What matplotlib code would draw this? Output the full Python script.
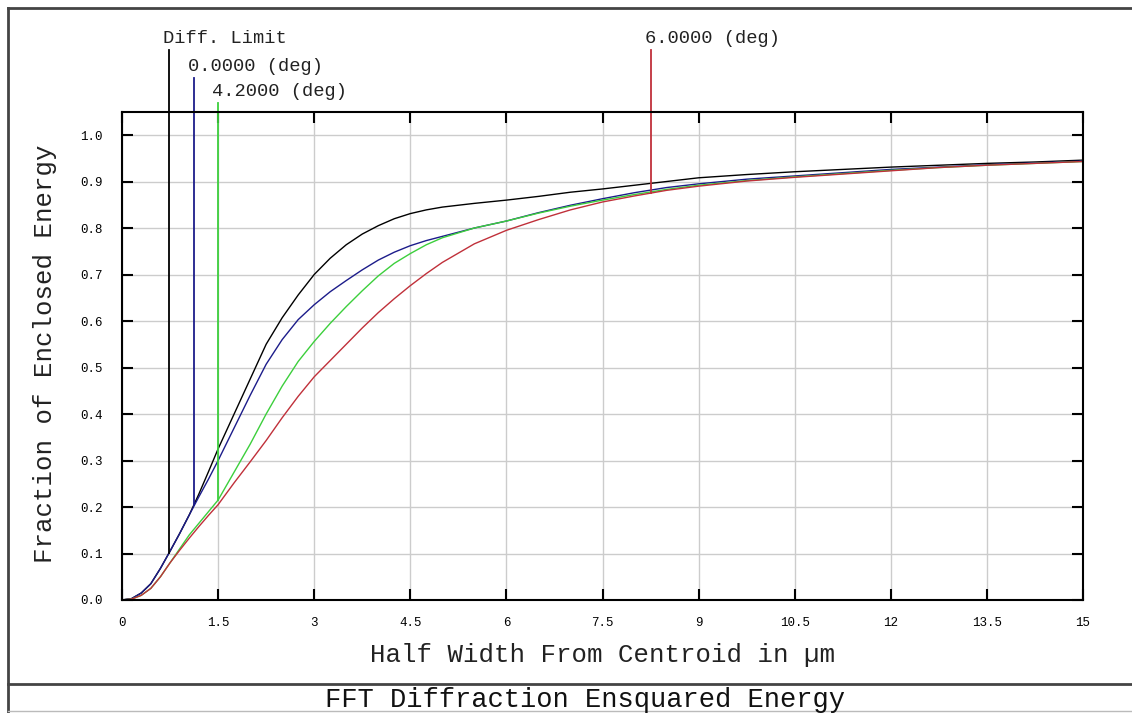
import matplotlib
matplotlib.use("Agg")
import matplotlib.pyplot as plt
import numpy as np
from matplotlib.lines import Line2D

plt.rcParams['font.family'] = ['Liberation Mono', 'DejaVu Sans Mono']

# half width from centroid (um)
half_width = [0, 0.15, 0.3, 0.45, 0.6, 0.75, 0.9, 1.05, 1.2, 1.35, 1.5, 1.75, 2.0, 2.25,
              2.5, 2.75, 3.0, 3.25, 3.5, 3.75, 4.0, 4.25, 4.5, 4.75, 5.0, 5.5, 6.0, 6.5,
              7.0, 7.5, 8.0, 8.5, 9.0, 9.75, 10.5, 11.25, 12.0, 12.75, 13.5, 14.25, 15.0]

# fraction of enclosed energy per field
diff_limit = [0, 0.003, 0.015, 0.035, 0.068, 0.105, 0.143, 0.183, 0.228, 0.276, 0.325,
              0.40, 0.475, 0.55, 0.607, 0.656, 0.70, 0.735, 0.764, 0.787, 0.805, 0.82,
              0.831, 0.839, 0.845, 0.853, 0.86, 0.868, 0.877, 0.884, 0.892, 0.90, 0.908,
              0.915, 0.921, 0.926, 0.931, 0.935, 0.939, 0.942, 0.946]
field_0 = [0, 0.003, 0.015, 0.035, 0.068, 0.105, 0.143, 0.183, 0.222, 0.26, 0.30, 0.37,
           0.44, 0.507, 0.56, 0.603, 0.635, 0.663, 0.687, 0.71, 0.731, 0.748, 0.762,
           0.773, 0.782, 0.80, 0.815, 0.833, 0.849, 0.863, 0.876, 0.887, 0.895, 0.905,
           0.912, 0.919, 0.926, 0.931, 0.936, 0.94, 0.944]
field_42 = [0, 0.002, 0.01, 0.025, 0.05, 0.08, 0.11, 0.14, 0.165, 0.19, 0.215, 0.275,
            0.335, 0.40, 0.46, 0.513, 0.556, 0.595, 0.631, 0.665, 0.697, 0.724, 0.745,
            0.764, 0.779, 0.80, 0.815, 0.832, 0.847, 0.86, 0.872, 0.883, 0.892, 0.902,
            0.91, 0.917, 0.924, 0.93, 0.935, 0.939, 0.943]
field_6 = [0, 0.002, 0.01, 0.025, 0.05, 0.08, 0.107, 0.133, 0.158, 0.182, 0.205, 0.252,
           0.297, 0.343, 0.392, 0.438, 0.48, 0.515, 0.55, 0.585, 0.618, 0.648, 0.676,
           0.702, 0.726, 0.766, 0.795, 0.818, 0.839, 0.856, 0.869, 0.881, 0.89, 0.901,
           0.909, 0.916, 0.923, 0.93, 0.935, 0.939, 0.943]

labels = ['Diff. Limit', '0.0000 (deg)', '4.2000 (deg)', '6.0000 (deg)']
marker_x = [0.73, 1.13, 1.50, 8.25]
colors = ['#000000', '#1c1c8a', '#3ccf3c', '#c0303a']
label_top = [1.183, 1.123, 1.069, 1.183]

x_ticks = [0, 1.5, 3, 4.5, 6, 7.5, 9, 10.5, 12, 13.5, 15]
x_tick_labels = ['0', '1.5', '3', '4.5', '6', '7.5', '9', '10.5', '12', '13.5', '15']
y_ticks = [0.0, 0.1, 0.2, 0.3, 0.4, 0.5, 0.6, 0.7, 0.8, 0.9, 1.0]

fig = plt.figure(figsize=(11.32, 7.13), dpi=100)
ax = fig.add_axes([122 / 1132, 113 / 713, (1083 - 122) / 1132, (600 - 112) / 713])

series = [diff_limit, field_0, field_42, field_6]
for vals, c in zip(series, colors):
    ax.plot(half_width, vals, color=c, lw=1.0)

# field marker lines with labels
for lab, mx, c, top, vals in zip(labels, marker_x, colors, label_top, series):
    bottom = np.interp(mx, half_width, vals)
    ax.plot([mx, mx], [bottom, top], color=c, lw=1.3, clip_on=False)
    ax.annotate(lab, xy=(mx, top), xytext=(-6, 3), textcoords='offset pixels',
                ha='left', va='bottom', fontsize=13.5, color='#222222',
                annotation_clip=False)

ax.set_xlim(0, 15)
ax.set_ylim(0, 1.0495)
ax.set_xticks(x_ticks)
ax.set_xticklabels(x_tick_labels)
ax.set_yticks(y_ticks)
ax.set_yticklabels(['%.1f' % v for v in y_ticks])
ax.tick_params(direction='in', length=8, width=1.5, top=True, right=True,
               labelsize=9, pad=12)
ax.tick_params(axis='y', pad=14)
ax.grid(True, color='#cccccc', lw=1.0)
for s in ax.spines.values():
    s.set_linewidth(1.5)

fig.text(602 / 1132, 1 - 655 / 713, 'Half Width From Centroid in µm',
         ha='center', va='center', fontsize=18.5, color='#222222')
fig.text(45 / 1132, 1 - 354 / 713, 'Fraction of Enclosed Energy', rotation=90,
         ha='center', va='center', fontsize=18.5, color='#222222')
fig.text(585 / 1132, 1 - 700 / 713, 'FFT Diffraction Ensquared Energy',
         ha='center', va='center', fontsize=19.5, color='#111111')

# window frame
def px_line(x0, y0, x1, y1, c='#444444', w=2.0):
    fig.add_artist(Line2D([x0 / 1132, x1 / 1132], [1 - y0 / 713, 1 - y1 / 713],
                          color=c, lw=w, transform=fig.transFigure))

px_line(8, 8, 1132, 8)
px_line(8, 8, 8, 713)
px_line(8, 684, 1132, 684)
px_line(8, 711, 1132, 711, c='#bbbbbb', w=1.0)

fig.savefig('out.png', dpi=100)
